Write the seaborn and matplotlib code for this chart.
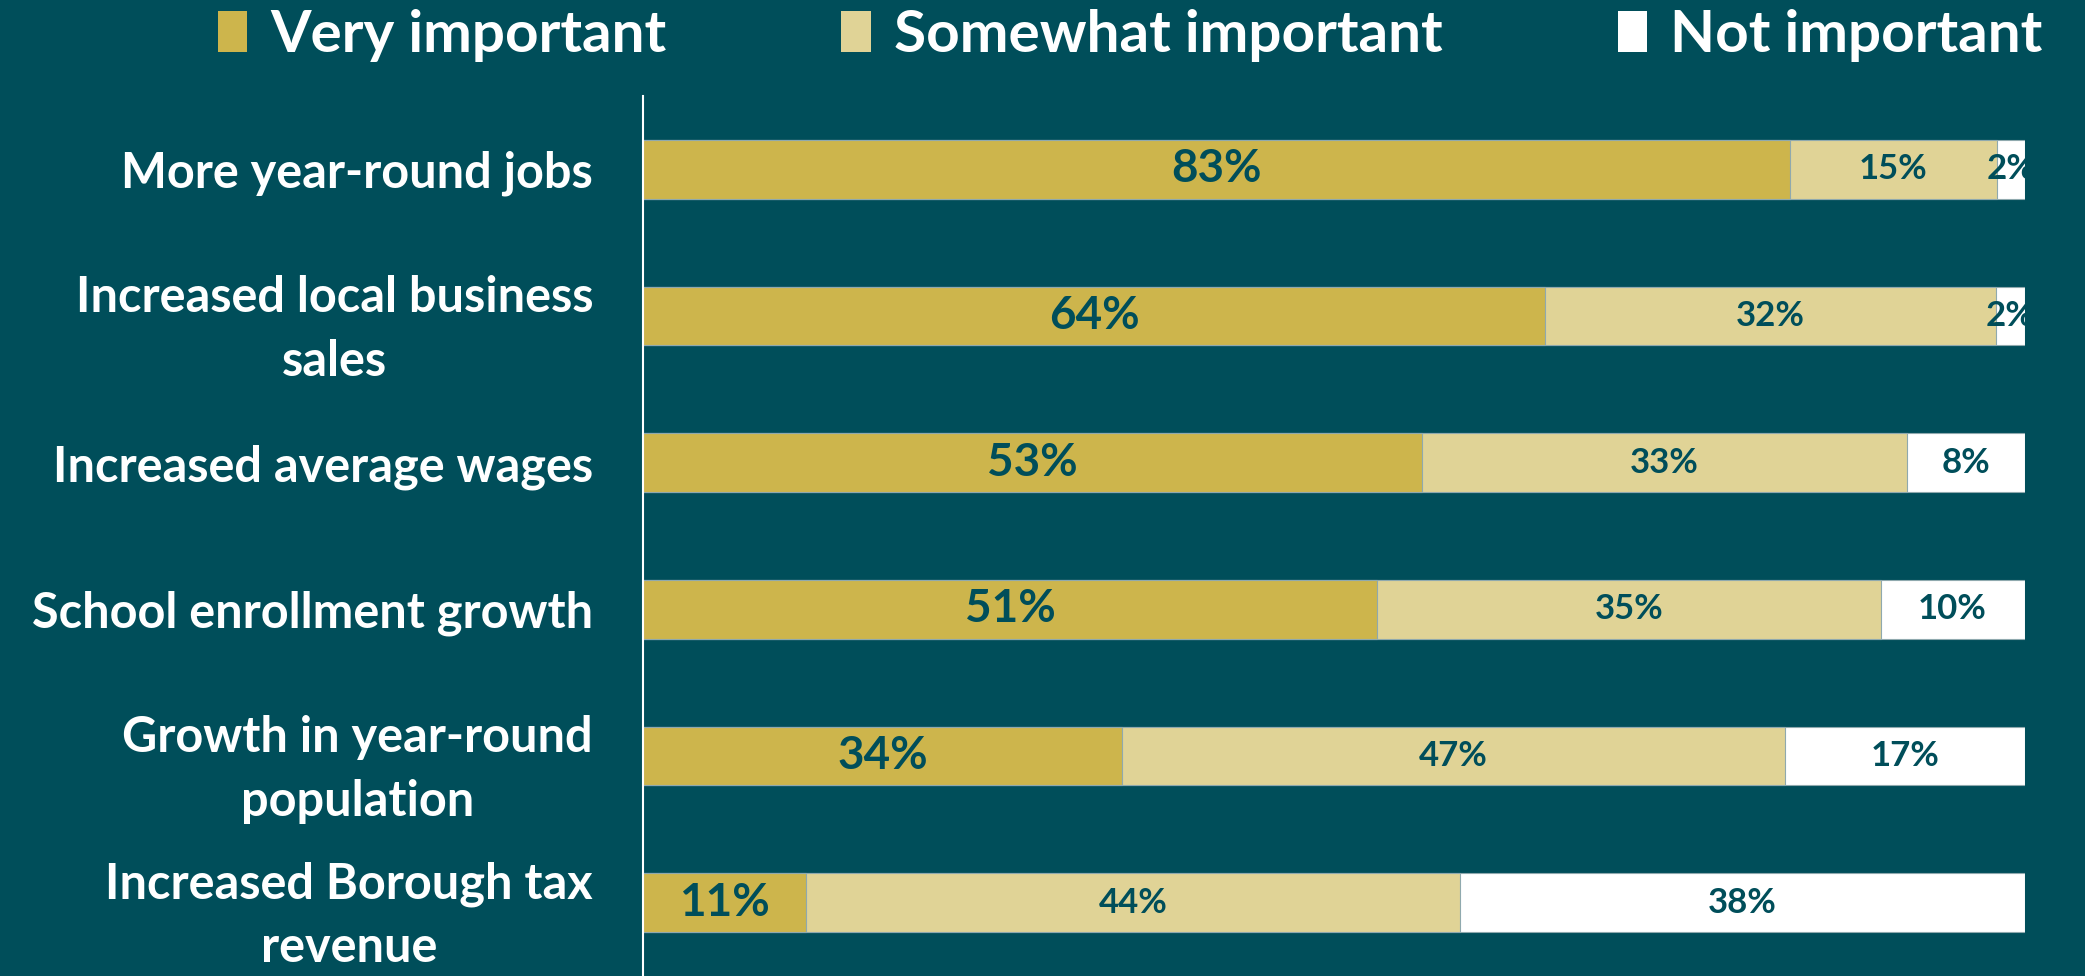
import pandas as pd
import numpy as np
import matplotlib.pyplot as plt
import seaborn as sns
from matplotlib.patches import Patch

# Survey values (percent)
categories = ['More year-round jobs', 'Increased local business\nsales', 'Increased average wages',
              'School enrollment growth', 'Growth in year-round\npopulation', 'Increased Borough tax\nrevenue']
very = [83, 64, 53, 51, 34, 11]
somewhat = [15, 32, 33, 35, 47, 44]
not_imp = [2, 2, 8, 10, 17, 38]
series_names = ['Very important', 'Somewhat important', 'Not important']

bg = '#004E5A'
colors = ['#CDB54C', '#E0D396', '#FFFFFF']
label_col = '#004E5A'

sns.set_style('white')
plt.rcParams['font.family'] = ['Lato', 'DejaVu Sans']

df = pd.DataFrame({'cat': categories, 'very': very, 'somewhat': somewhat, 'not': not_imp})
total = df[['very', 'somewhat', 'not']].sum(axis=1)
# 100% stacked: shares of the row total
df['p_very'] = df['very'] / total * 100
df['p_some'] = df['somewhat'] / total * 100
df['p_not'] = df['not'] / total * 100
df['c1'] = df['p_very']
df['c2'] = df['p_very'] + df['p_some']
df['c3'] = df['c2'] + df['p_not']

fig = plt.figure(figsize=(20.85, 9.76), dpi=100, facecolor=bg)
ax = fig.add_axes([0.3084, 0.0, 0.971 - 0.3084, 0.9016])
ax.set_facecolor(bg)

for col, c in zip(['c3', 'c2', 'c1'], colors[::-1]):
    sns.barplot(data=df, x=col, y='cat', orient='h', color=c, width=0.4,
                edgecolor='#8FA9AE', linewidth=0.8, ax=ax, saturation=1)

# value labels, centred in each segment
for i, row in df.iterrows():
    ax.text(row['c1'] / 2, i, f"{row['very']}%", ha='center', va='center',
            fontsize=33, fontweight='bold', color=label_col)
    ax.text((row['c1'] + row['c2']) / 2, i, f"{row['somewhat']}%", ha='center', va='center',
            fontsize=25, fontweight='bold', color=label_col)
    ax.text((row['c2'] + row['c3']) / 2, i, f"{row['not']}%", ha='center', va='center',
            fontsize=25, fontweight='bold', color=label_col)

ax.set_xlim(0, 100)
ax.set_ylim(5.5, -0.5)
ax.set_xlabel('')
ax.set_ylabel('')
ax.set_xticks([])
ax.tick_params(axis='y', length=0, pad=36)
for lab in ax.get_yticklabels():
    lab.set_fontsize(35)
    lab.set_fontweight('bold')
    lab.set_color('white')
    lab.set_multialignment('center')
    lab.set_linespacing(1.5)

for s in ['top', 'right', 'bottom']:
    ax.spines[s].set_visible(False)
ax.spines['left'].set_color('white')
ax.spines['left'].set_linewidth(1.5)

handles = [Patch(facecolor=c, edgecolor='none', label=n) for c, n in zip(colors, series_names)]
leg = fig.legend(handles=handles, loc='upper center', bbox_to_anchor=(0.542, 1.045), ncol=3,
                 frameon=False, handlelength=0.5, handleheight=0.7,
                 handletextpad=0.4, columnspacing=3.0, labelcolor='white',
                 prop={'weight': 'bold', 'size': 42})

fig.savefig('out.png', dpi=100, facecolor=bg)
